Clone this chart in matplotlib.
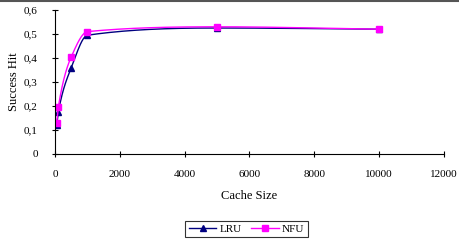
import numpy as np
import matplotlib.pyplot as plt
from matplotlib.ticker import FuncFormatter
from matplotlib.lines import Line2D

cache_size = [50, 100, 500, 1000, 5000, 10000]
lru_hit = [0.12, 0.175, 0.36, 0.495, 0.525, 0.52]
nfu_hit = [0.13, 0.195, 0.405, 0.51, 0.53, 0.52]

plt.rcParams['font.family'] = ['Liberation Serif', 'DejaVu Serif']


def smooth_line(xs, ys, n=60):
    # monotone cubic (Fritsch-Carlson) curve through the points, for drawing only
    x = np.asarray(xs, float)
    y = np.asarray(ys, float)
    h = np.diff(x)
    d = np.diff(y) / h
    m = np.zeros_like(y)
    m[0], m[-1] = d[0], d[-1]
    for i in range(1, len(x) - 1):
        if d[i - 1] * d[i] > 0:
            w1 = 2 * h[i] + h[i - 1]
            w2 = h[i] + 2 * h[i - 1]
            m[i] = (w1 + w2) / (w1 / d[i - 1] + w2 / d[i])
    xo, yo = [], []
    for i in range(len(x) - 1):
        t = np.linspace(0, 1, n)
        h00 = 2 * t ** 3 - 3 * t ** 2 + 1
        h10 = t ** 3 - 2 * t ** 2 + t
        h01 = -2 * t ** 3 + 3 * t ** 2
        h11 = t ** 3 - t ** 2
        xo.append(x[i] + t * h[i])
        yo.append(h00 * y[i] + h10 * h[i] * m[i] + h01 * y[i + 1] + h11 * h[i] * m[i + 1])
    return np.concatenate(xo), np.concatenate(yo)


fig = plt.figure(figsize=(4.59, 2.44), dpi=100)
ax = fig.add_axes([0.12, 0.369, 0.847, 0.59])
ax.set_xlim(0, 12000)
ax.set_ylim(0, 0.6)
ax.set_xticks(range(0, 12001, 2000))
ax.set_yticks(np.arange(0, 0.61, 0.1))
ax.yaxis.set_major_formatter(FuncFormatter(lambda v, p: ('%g' % round(v, 1)).replace('.', ',')))
ax.spines['top'].set_visible(False)
ax.spines['right'].set_visible(False)
ax.tick_params(labelsize=8, length=5, width=0.8, direction='inout')
ax.tick_params(axis='x', pad=9)
ax.tick_params(axis='y', pad=10)

for ys, col, mk, ms in [(lru_hit, '#000080', '^', 4.5), (nfu_hit, '#FF00FF', 's', 4)]:
    sx, sy = smooth_line(cache_size, ys)
    ax.plot(sx, sy, color=col, lw=1)
    ax.plot(cache_size, ys, ls='none', marker=mk, color=col, ms=ms)

ax.set_xlabel('Cache Size', fontsize=9, labelpad=8)
ax.set_ylabel('Success Hit', fontsize=9, labelpad=3)

handles = [Line2D([], [], color='#000080', marker='^', ms=4.5, lw=1),
           Line2D([], [], color='#FF00FF', marker='s', ms=4, lw=1)]
leg = fig.legend(handles, ['LRU', 'NFU'], loc='center', bbox_to_anchor=(0.537, 0.061),
                 ncol=2, fontsize=8, frameon=True, fancybox=False, edgecolor='black',
                 handlelength=2.5, columnspacing=0.8, handletextpad=0.3, borderpad=0.3)
leg.get_frame().set_linewidth(0.8)

fig.add_artist(Line2D([0, 1], [0.997, 0.997], transform=fig.transFigure, color='#555555', lw=1.5))

fig.savefig('out.png', dpi=100)
